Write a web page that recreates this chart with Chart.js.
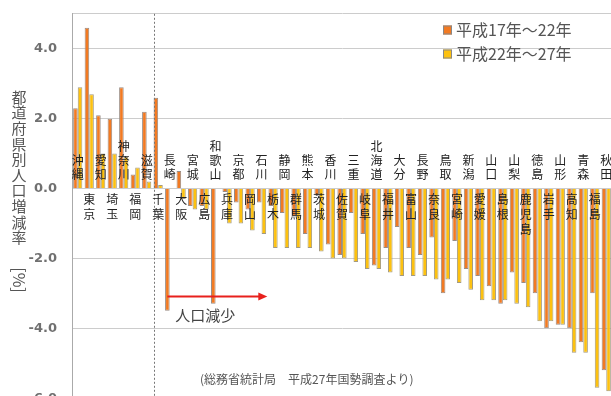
<!DOCTYPE html>
<html><head><meta charset="utf-8">
<script src="https://cdn.jsdelivr.net/npm/chart.js@4"></script>
<style>
html,body{margin:0;padding:0;background:#fff;overflow:hidden;width:611px;height:396px;}
#wrap{position:absolute;left:0;top:-9px;width:620px;height:430px;}
</style></head><body>
<div id="wrap"><canvas id="c" width="620" height="430"></canvas></div>
<script>
// 都道府県（平成22年～27年の増減率順、長崎・和歌山を前寄せ）
const prefectures = ['沖縄','東京','愛知','埼玉','神奈川','福岡','滋賀','千葉','長崎','大阪','宮城','広島','和歌山','兵庫','京都','岡山','石川','栃木','静岡','群馬','熊本','茨城','香川','佐賀','三重','岐阜','北海道','福井','大分','富山','長野','奈良','鳥取','宮崎','新潟','愛媛','山口','島根','山梨','鹿児島','徳島','岩手','山形','高知','青森','福島','秋田'];
// 平成17年～22年の人口増減率（%）
const rateH17toH22 = [2.3,4.6,2.1,2.0,2.9,0.4,2.2,2.6,-3.5,0.5,-0.5,-0.5,-3.3,-0.1,-0.4,-0.6,-0.4,-0.5,-0.7,-0.8,-1.3,-0.2,-1.6,-1.9,-0.7,-1.3,-2.2,-1.7,-1.1,-1.7,-1.9,-1.4,-3.0,-1.5,-2.3,-2.5,-2.8,-3.3,-2.4,-2.7,-3.0,-4.0,-3.9,-4.0,-4.4,-3.0,-5.2];
// 平成22年～27年の人口増減率（%）
const rateH22toH27 = [2.9,2.7,1.0,1.0,0.9,0.6,0.2,0.1,null,-0.3,-0.6,-0.6,null,-1.0,-1.0,-1.2,-1.3,-1.7,-1.7,-1.7,-1.7,-1.8,-2.0,-2.0,-2.1,-2.3,-2.3,-2.4,-2.5,-2.5,-2.5,-2.6,-2.6,-2.7,-2.9,-3.2,-3.2,-3.2,-3.3,-3.4,-3.8,-3.8,-3.9,-4.7,-4.7,-5.7,-5.8];
const seriesNames = ['平成17年～22年','平成22年～27年'];
const yTicks = [-6,-4,-2,0,2,4,5];
const axisTitle = '都道府県別人口増減率';
const unitLabel = '[%]';
const declineLabel = '人口減少';
const sourceNote = '(総務省統計局　平成27年国勢調査より)';

const FONT = '"Noto Sans CJK JP", "Noto Sans CJK SC", sans-serif';
const ORANGE = '#F27A22';
const YELLOW = '#FDC10F';
const CANVAS_SHIFT = 9; // the canvas sits 9px above the page top

const decor = {
  id: 'decor',
  afterDatasetsDraw(chart) {
    const {ctx, chartArea: a, scales: {x, y}} = chart;
    const zeroY = y.getPixelForValue(0);
    const catW = (a.right - a.left) / prefectures.length;
    ctx.save();
    // 千葉の棒に沿った点線の区切り
    const chiba = chart.getDatasetMeta(0).data[7];
    const sx = Math.round(chiba.x - 1.5) + 0.5;
    ctx.strokeStyle = '#777'; ctx.lineWidth = 1; ctx.setLineDash([2, 2]);
    ctx.beginPath(); ctx.moveTo(sx, a.top); ctx.lineTo(sx, a.bottom); ctx.stroke();
    ctx.setLineDash([]);

    // 縦書きの県名（上下交互）
    ctx.font = '12px ' + FONT; ctx.fillStyle = '#222';
    ctx.textAlign = 'center'; ctx.textBaseline = 'middle';
    prefectures.forEach((name, i) => {
      const cx = x.getPixelForValue(i);
      const chars = [...name];
      if (i % 2 === 0) {
        chars.forEach((ch, k) => ctx.fillText(ch, cx, zeroY - 14 - (chars.length - 1 - k) * 14));
      } else {
        chars.forEach((ch, k) => ctx.fillText(ch, cx, zeroY + 11 + k * 15));
      }
    });

    // 人口減少の矢印
    const startX = chart.getDatasetMeta(0).data[8].x;
    const endX = x.getPixelForValue(16) + catW / 2;
    const ay = Math.round(y.getPixelForValue(-3.07)) + 0.5;
    ctx.strokeStyle = '#E8201C'; ctx.fillStyle = '#E8201C'; ctx.lineWidth = 2;
    ctx.beginPath(); ctx.moveTo(startX, ay); ctx.lineTo(endX - 6, ay); ctx.stroke();
    ctx.beginPath(); ctx.moveTo(endX, ay); ctx.lineTo(endX - 9, ay - 4); ctx.lineTo(endX - 9, ay + 4); ctx.closePath(); ctx.fill();
    ctx.font = '15px ' + FONT; ctx.fillStyle = '#444'; ctx.textAlign = 'left';
    ctx.fillText(declineLabel, startX + 8, ay + 19);

    // ここから下はページ座標で配置
    ctx.translate(0, CANVAS_SHIFT);

    // 出典
    ctx.font = '12px ' + FONT; ctx.fillStyle = '#555'; ctx.textAlign = 'left';
    ctx.fillText(sourceNote, 200, 379);

    // 凡例
    const colors = [ORANGE, YELLOW];
    ctx.font = '16px ' + FONT;
    seriesNames.forEach((s, i) => {
      const ly = 30 + i * 24;
      ctx.fillStyle = colors[i]; ctx.fillRect(443, ly - 4.5, 9, 9);
      ctx.strokeStyle = '#888'; ctx.lineWidth = 1; ctx.strokeRect(443.5, ly - 4, 8, 8);
      ctx.fillStyle = '#555'; ctx.fillText(s, 456, ly);
    });

    // 縦軸タイトル
    ctx.font = '15px ' + FONT; ctx.fillStyle = '#555'; ctx.textAlign = 'center';
    [...axisTitle].forEach((ch, k) => ctx.fillText(ch, 19, 97 + k * 15.6));
    ctx.translate(19, 280); ctx.rotate(Math.PI / 2);
    ctx.font = '16px ' + FONT;
    ctx.fillText(unitLabel, 0, 0);
    ctx.restore();
  }
};

new Chart(document.getElementById('c'), {
  type: 'bar',
  data: {
    labels: prefectures,
    datasets: [
      {label: seriesNames[0], data: rateH17toH22, backgroundColor: ORANGE, borderColor: '#9a8c84', borderWidth: 1},
      {label: seriesNames[1], data: rateH22toH27, backgroundColor: YELLOW, borderColor: '#a39a80', borderWidth: 1}
    ]
  },
  options: {
    responsive: false, animation: false, devicePixelRatio: 1,
    layout: {padding: {left: 0, top: 3, right: 8, bottom: 3}},
    datasets: {bar: {categoryPercentage: 0.8, barPercentage: 1.0}},
    plugins: {legend: {display: false}, tooltip: {enabled: false}},
    scales: {
      x: {display: false},
      y: {
        min: -6, max: 5,
        afterBuildTicks: s => { s.ticks = yTicks.map(v => ({value: v})); },
        afterFit: s => { s.width = 72; },
        grid: {color: '#cccccc', drawTicks: false},
        border: {display: true, color: '#aaaaaa'},
        ticks: {
          padding: 15, color: '#707070',
          font: {family: 'DejaVu Sans', size: 13, weight: 'bold'},
          callback: v => (v % 2 === 0 ? v.toFixed(1) : '')
        }
      }
    }
  },
  plugins: [decor]
});
</script>
</body></html>
